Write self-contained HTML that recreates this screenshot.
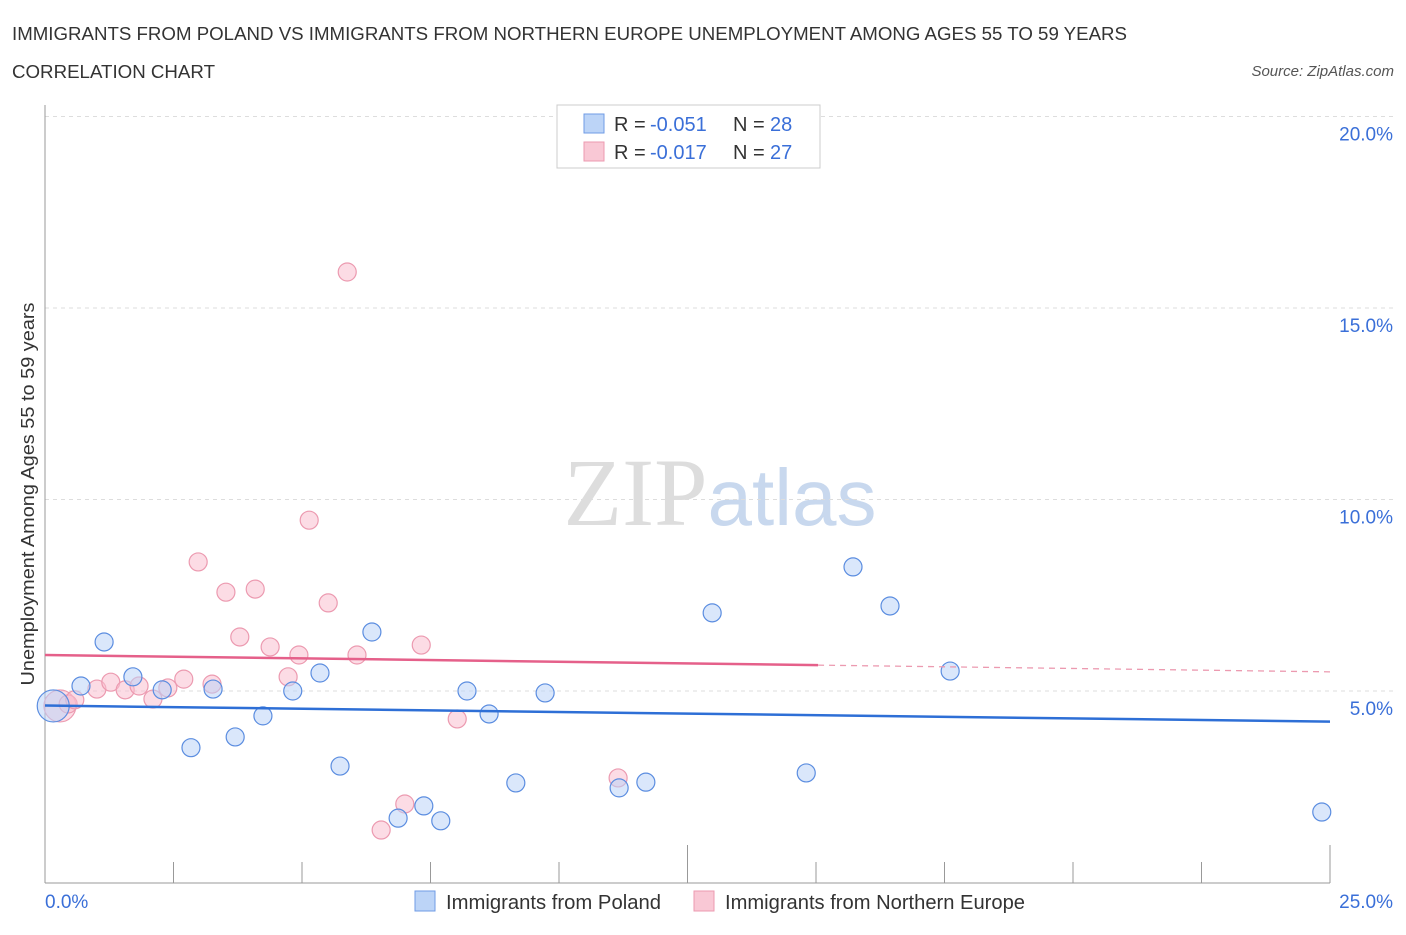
<!DOCTYPE html>
<html><head><meta charset="utf-8">
<style>
body{margin:0;background:#fff;font-family:"Liberation Sans",sans-serif;}
</style></head>
<body>
<svg id="chart" width="1406" height="930" viewBox="0 0 1406 930" xmlns="http://www.w3.org/2000/svg" font-family="Liberation Sans, sans-serif">
<text x="12" y="40" font-size="18" fill="#333" textLength="1115" lengthAdjust="spacingAndGlyphs">IMMIGRANTS FROM POLAND VS IMMIGRANTS FROM NORTHERN EUROPE UNEMPLOYMENT AMONG AGES 55 TO 59 YEARS</text>
<text x="12" y="78" font-size="18" fill="#333" textLength="203" lengthAdjust="spacingAndGlyphs">CORRELATION CHART</text>
<text x="1394" y="76" font-size="15" fill="#555" text-anchor="end" font-style="italic">Source: ZipAtlas.com</text>
<text x="720" y="525" font-size="96" text-anchor="middle" fill="#ddd" font-family="Liberation Serif, serif">ZIP<tspan fill="#c8d8ee" font-family="Liberation Sans, sans-serif" font-size="80">atlas</tspan></text>
<text transform="translate(34,494) rotate(-90)" font-size="18" fill="#333" text-anchor="middle" textLength="383" lengthAdjust="spacingAndGlyphs">Unemployment Among Ages 55 to 59 years</text>
<g id="grid"></g><g id="axes"></g><g id="marks"></g>
<g>
<rect x="557" y="105" width="263" height="63" fill="#fff" stroke="#ccc"/>
<rect x="584" y="114" width="20" height="19" fill="#bcd4f7" stroke="#6f9be6"/>
<text x="614" y="131" font-size="20" fill="#333">R = </text><text x="650" y="131" font-size="20" fill="#3a6fd8">-0.051</text>
<text x="733" y="131" font-size="20" fill="#333">N = </text><text x="770" y="131" font-size="20" fill="#3a6fd8">28</text>
<rect x="584" y="142" width="20" height="19" fill="#f9c8d5" stroke="#ec9ab0"/>
<text x="614" y="159" font-size="20" fill="#333">R = </text><text x="650" y="159" font-size="20" fill="#3a6fd8">-0.017</text>
<text x="733" y="159" font-size="20" fill="#333">N = </text><text x="770" y="159" font-size="20" fill="#3a6fd8">27</text>
</g>
<g>
<rect x="415" y="891" width="20" height="20" fill="#bcd4f7" stroke="#6f9be6"/>
<text x="446" y="909" font-size="20" fill="#333" textLength="215" lengthAdjust="spacingAndGlyphs">Immigrants from Poland</text>
<rect x="694" y="891" width="20" height="20" fill="#f9c8d5" stroke="#ec9ab0"/>
<text x="725" y="909" font-size="20" fill="#333" textLength="300" lengthAdjust="spacingAndGlyphs">Immigrants from Northern Europe</text>
</g>
</svg>
<script>
const blueX=[0.16,0.70,1.15,1.71,2.28,2.84,3.27,3.70,4.24,4.82,5.35,5.74,6.36,6.87,7.37,7.70,8.21,8.64,9.16,9.73,11.17,11.69,12.98,14.81,15.72,16.44,17.61,24.84];
const blueY=[4.61,5.13,6.28,5.37,5.03,3.52,5.05,3.80,4.35,5.00,5.47,3.04,6.54,1.68,2.00,1.61,5.00,4.40,2.60,4.95,2.47,2.62,7.04,2.86,8.24,7.22,5.52,1.84];
const pinkX=[0.29,0.45,0.58,1.01,1.28,1.56,1.83,2.10,2.39,2.70,2.98,3.25,3.52,3.79,4.09,4.38,4.73,4.94,5.14,5.51,5.88,6.07,6.54,7.00,7.32,8.02,11.15];
const pinkY=[4.61,4.66,4.77,5.05,5.23,5.03,5.13,4.79,5.08,5.31,8.37,5.18,7.58,6.41,7.66,6.15,5.37,5.94,9.46,7.30,15.94,5.94,1.37,2.05,6.20,4.27,2.73];
const blueTrend=[4.62,4.20];
const pinkTrend=[5.94,5.50];
const yTicks=[5,10,15,20];
const xTickLabels=["0.0%","25.0%"];
const NS="http://www.w3.org/2000/svg";
const X=v=>45+v*51.4, Y=v=>882.5-v*38.3;
function mk(tag,attrs,parent){const e=document.createElementNS(NS,tag);for(const k in attrs)e.setAttribute(k,attrs[k]);document.getElementById(parent).appendChild(e);return e;}
yTicks.forEach(t=>{
 const g=mk('line',{x1:45,x2:1394,y1:Y(t),y2:Y(t),stroke:'#ddd','stroke-dasharray':'4,4'},'grid');
 
 
 const l=mk('text',{x:1393,y:Y(t)+24,'font-size':19,fill:'#3a6fd8','text-anchor':'end'},'axes');
 l.textContent=t.toFixed(1)+'%';
 
 
});
mk('line',{x1:45,x2:45,y1:105,y2:883,stroke:'#999'},'axes');
mk('line',{x1:45,x2:1330,y1:883,y2:883,stroke:'#999'},'axes');
for(let i=0;i<=10;i++){const x=45+i*128.5;mk('line',{x1:x,x2:x,y1:(i%5==0?845:862),y2:883,stroke:'#999'},'axes');}
xTickLabels.forEach((s,i)=>{
 const l=mk('text',{x:i?1393:45,y:908,'font-size':19,fill:'#3a6fd8','text-anchor':i?'end':'start'},'axes');
 l.textContent=s;
 
 
});
function pts(xs,ys,fill,stroke,name){xs.forEach((x,i)=>{
 const r=i==0?16:9;
 const c=mk('circle',{cx:X(x),cy:Y(ys[i]),r:r,fill:fill,'fill-opacity':0.55,stroke:stroke,'stroke-width':1.2},'marks');
 
 
});}
pts(pinkX,pinkY,'#f9c0d0','#ec9ab0','point-northern-europe');
pts(blueX,blueY,'#bcd4f7','#5b8de0','point-poland');
const bl=mk('line',{x1:X(0),x2:X(25),y1:Y(blueTrend[0]),y2:Y(blueTrend[1]),stroke:'#2e6fd6','stroke-width':2.5},'marks');


const pm=pinkTrend[0]+(pinkTrend[1]-pinkTrend[0])*15.04/25;
const pl=mk('line',{x1:X(0),x2:X(15.04),y1:Y(pinkTrend[0]),y2:Y(pm),stroke:'#e5608a','stroke-width':2.5},'marks');


const pd=mk('line',{x1:X(15.04),x2:X(25),y1:Y(pm),y2:Y(pinkTrend[1]),stroke:'#ec9ab0','stroke-width':1.3,'stroke-dasharray':'6,5'},'marks');


</script>
</body></html>
